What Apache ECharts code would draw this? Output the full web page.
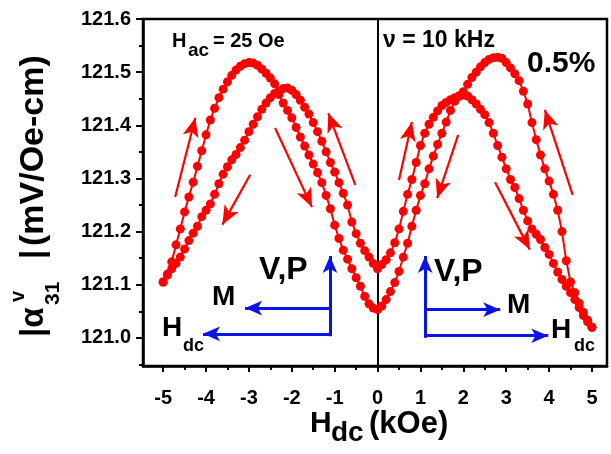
<!DOCTYPE html>
<html><head><meta charset="utf-8">
<script src="https://cdn.jsdelivr.net/npm/echarts@6/dist/echarts.min.js"></script>
<style>html,body{margin:0;padding:0;background:#fff}#c{width:611px;height:454px}</style>
</head><body><div id="c"></div>
<script>
// ---- data ----
const fieldH = [-5.0,-4.9,-4.8,-4.7,-4.6,-4.5,-4.4,-4.3,-4.2,-4.1,-4.0,-3.9,-3.8,-3.7,-3.6,-3.5,-3.4,-3.3,-3.2,-3.1,-3.0,-2.9,-2.8,-2.7,-2.6,-2.5,-2.4,-2.3,-2.2,-2.1,-2.0,-1.9,-1.8,-1.7,-1.6,-1.5,-1.4,-1.3,-1.2,-1.1,-1.0,-0.9,-0.8,-0.7,-0.6,-0.5,-0.4,-0.3,-0.2,-0.1,0.0,0.1,0.2,0.3,0.4,0.5,0.6,0.7,0.8,0.9,1.0,1.1,1.2,1.3,1.4,1.5,1.6,1.7,1.8,1.9,2.0,2.1,2.2,2.3,2.4,2.5,2.6,2.7,2.8,2.9,3.0,3.1,3.2,3.3,3.4,3.5,3.6,3.7,3.8,3.9,4.0,4.1,4.2,4.3,4.4,4.5,4.6,4.7,4.8,4.9,5.0];
const sweep1 = [121.105,121.120,121.143,121.175,121.205,121.237,121.265,121.293,121.323,121.352,121.382,121.410,121.432,121.452,121.468,121.482,121.494,121.504,121.511,121.516,121.518,121.517,121.513,121.506,121.498,121.489,121.478,121.458,121.442,121.428,121.414,121.396,121.378,121.361,121.344,121.327,121.311,121.292,121.268,121.243,121.212,121.187,121.165,121.148,121.130,121.113,121.097,121.078,121.064,121.056,121.053,
121.060,121.072,121.087,121.104,121.125,121.152,121.178,121.210,121.240,121.268,121.290,121.318,121.342,121.364,121.385,121.406,121.428,121.445,121.455,121.463,121.477,121.490,121.500,121.510,121.518,121.524,121.527,121.528,121.526,121.518,121.508,121.497,121.484,121.464,121.440,121.405,121.373,121.344,121.318,121.295,121.270,121.240,121.200,121.145,121.105,121.085,121.065,121.048,121.033,121.020];
const sweep2 = [121.105,121.118,121.130,121.140,121.152,121.167,121.183,121.197,121.210,121.228,121.240,121.252,121.270,121.290,121.308,121.322,121.335,121.345,121.358,121.372,121.388,121.402,121.416,121.430,121.442,121.452,121.460,121.465,121.469,121.470,121.466,121.458,121.447,121.434,121.421,121.405,121.388,121.370,121.350,121.330,121.312,121.292,121.272,121.250,121.218,121.196,121.178,121.164,121.152,121.140,121.130,
121.138,121.147,121.160,121.179,121.205,121.238,121.270,121.298,121.330,121.362,121.385,121.402,121.415,121.427,121.437,121.443,121.448,121.452,121.455,121.457,121.455,121.448,121.440,121.430,121.420,121.405,121.385,121.362,121.340,121.318,121.298,121.283,121.262,121.240,121.220,121.205,121.195,121.185,121.170,121.157,121.140,121.124,121.110,121.097,121.085,121.072,121.057,121.042,121.030,121.020];
const xTicks = [-5,-4,-3,-2,-1,0,1,2,3,4,5];
const xMinorTicks = [-4.5,-3.5,-2.5,-1.5,-0.5,0.5,1.5,2.5,3.5,4.5];
const yTicks = [121.0,121.1,121.2,121.3,121.4,121.5,121.6];
const yMinorTicks = [120.95,121.05,121.15,121.25,121.35,121.45,121.55];
// sweep-direction arrows [x1,y1,x2,y2] in data units
const redArrows = [
  [-4.72,121.265,-4.25,121.414],
  [-2.97,121.307,-3.62,121.213],
  [-2.39,121.395,-1.53,121.246],
  [-0.52,121.288,-1.15,121.423],
  [0.50,121.297,0.80,121.406],
  [1.88,121.382,1.39,121.263],
  [2.74,121.293,3.55,121.166],
  [4.55,121.269,3.90,121.429]
];
const blueArrows = [
  [-1.11,121.003,-1.11,121.154],
  [-1.11,121.056,-3.09,121.056],
  [-1.11,121.0075,-4.07,121.0075],
  [1.11,121.000,1.11,121.154],
  [1.11,121.053,2.86,121.053],
  [1.11,121.004,3.98,121.004]
];

const FF = 'Liberation Sans';
const RED = '#ff0000';
const BLUE = '#0a14e6';

function pairs(ys){ return fieldH.map((h,i)=>[h, ys[i]]); }
function arrowLines(list){ return list.map(a=>[{coord:[a[0],a[1]]},{coord:[a[2],a[3]]}]); }
function txt(s, x, y, size){
  return {type:'text', x:x, y:y, silent:true,
    style:{text:s, fill:'#000', fontSize:size, fontWeight:'bold', fontFamily:FF, align:'left', verticalAlign:'middle'}};
}

const chart = echarts.init(document.getElementById('c'), null, {renderer:'canvas'});
const xMin = -5.47, xMax = 5.35, yMin = 120.947, yMax = 121.6;

const option = {
  animation:false,
  backgroundColor:'#fff',
  grid:{left:143, top:19, right:4, bottom:88, show:true, borderColor:'#000', borderWidth:2.5, containLabel:false},
  xAxis:[
    {type:'value', min:xMin, max:xMax, position:'bottom',
     axisLine:{show:true, onZero:false, lineStyle:{color:'#000', width:2.5}},
     axisTick:{show:true, customValues:xTicks, length:6, lineStyle:{color:'#000', width:2}},
     axisLabel:{show:true, customValues:xTicks, margin:22, color:'#000', fontSize:20, fontWeight:'bold', fontFamily:FF,
       formatter:v=>String(Math.round(v))},
     splitLine:{show:false}},
    {type:'value', min:xMin, max:xMax, position:'bottom', gridIndex:0,
     axisLine:{show:false, onZero:false},
     axisTick:{show:true, customValues:xMinorTicks, length:4, lineStyle:{color:'#000', width:2}},
     axisLabel:{show:false}, splitLine:{show:false}}
  ],
  yAxis:[
    {type:'value', min:yMin, max:yMax, position:'left',
     axisLine:{show:true, onZero:false, lineStyle:{color:'#000', width:2.5}},
     axisTick:{show:true, customValues:yTicks, length:7, lineStyle:{color:'#000', width:2}},
     axisLabel:{show:true, customValues:yTicks, margin:12, color:'#000', fontSize:20, fontWeight:'bold', fontFamily:FF,
       formatter:v=>v.toFixed(1)},
     splitLine:{show:false}},
    {type:'value', min:yMin, max:yMax, position:'left',
     axisLine:{show:false, onZero:false},
     axisTick:{show:true, customValues:yMinorTicks, length:4, lineStyle:{color:'#000', width:2}},
     axisLabel:{show:false}, splitLine:{show:false}}
  ],
  series:[
    {type:'line', name:'sweep1', data:pairs(sweep1), xAxisIndex:0, yAxisIndex:0,
     symbol:'circle', symbolSize:9, itemStyle:{color:RED}, lineStyle:{color:RED, width:2}, z:5,
     markLine:{silent:true, symbol:['none','none'], label:{show:false}, animation:false,
       lineStyle:{color:'#000', width:2, type:'solid'}, data:[{xAxis:0}]}},
    {type:'line', name:'sweep2', data:pairs(sweep2), xAxisIndex:0, yAxisIndex:0,
     symbol:'circle', symbolSize:9, itemStyle:{color:RED}, lineStyle:{color:RED, width:2}, z:5},
    {type:'line', name:'redArrows', data:[], xAxisIndex:0, yAxisIndex:0, z:4,
     markLine:{silent:true, symbol:['none','arrow'], symbolSize:[12,19], label:{show:false}, animation:false,
       lineStyle:{color:RED, width:2.2, type:'solid'}, emphasis:{disabled:true}, data:arrowLines(redArrows)}},
    {type:'line', name:'blueArrows', data:[], xAxisIndex:0, yAxisIndex:0, z:4,
     markLine:{silent:true, symbol:['none','arrow'], symbolSize:[11,17], label:{show:false}, animation:false,
       lineStyle:{color:BLUE, width:3, type:'solid'}, emphasis:{disabled:true}, data:arrowLines(blueArrows)}}
  ],
  graphic:[
    // x axis title
    txt('H', 310, 424, 30),
    txt('dc', 331, 433, 28),
    txt('(kOe)', 369, 424, 31),
    // y axis title (rotated)
    {type:'group', x:34, y:345, rotation:Math.PI/2, silent:true, children:[
      txt('|\u03B1', 8, 0, 33),
      txt('31', 40, 19, 21),
      txt('v', 43, -16, 20),
      txt('|', 86, 0, 33),
      txt('(mV/Oe-cm)', 99, 0, 34)
    ]},
    // in-plot annotations
    txt('H', 172, 41, 20),
    txt('ac', 188, 51, 19),
    txt('= 25 Oe', 213, 41, 20),
    txt('\u03BD = 10 kHz', 383, 41, 23),
    txt('0.5%', 527, 64, 30),
    txt('V,P', 259, 270, 32),
    txt('M', 212, 297, 28),
    txt('H', 162, 328, 28),
    txt('dc', 183, 346, 18),
    txt('V,P', 434, 272, 32),
    txt('M', 507, 305, 28),
    txt('H', 551, 330, 28),
    txt('dc', 574, 346, 18)
  ]
};
chart.setOption(option);
</script></body></html>
